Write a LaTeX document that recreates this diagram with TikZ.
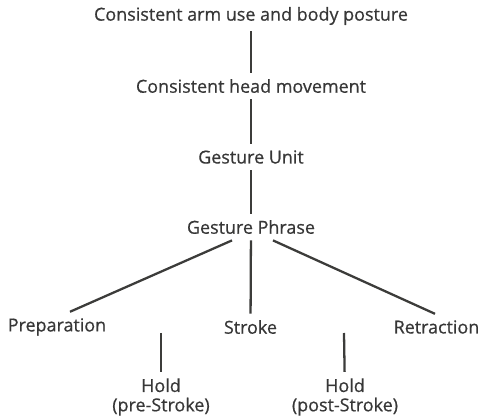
\documentclass[tikz,border=0pt]{standalone}
\usepackage{fontspec}
\setmainfont{Open Sans}
\newfontfamily\lblfont[FakeBold=0.6]{Open Sans}
\usepackage{tikz}
\usetikzlibrary{positioning, calc}
\definecolor{ink}{RGB}{55,55,55}
\definecolor{rule}{RGB}{60,60,58}

\begin{document}
\begin{tikzpicture}[
  lvl/.style={inner sep=3.5pt, text=ink, font=\fontsize{10.2}{11}\lblfont},
  hold/.style={lvl, align=center},
  link/.style={rule, line width=1.3pt}]
\useasboundingbox (0,0) rectangle (9.64,-8.32);
\node[lvl] (arm) at (5.02,-0.32) {Consistent arm use and body posture};
\node[lvl] (head) at (5.02,-1.72) {Consistent head movement};
\node[lvl] (unit) at (5.02,-3.14) {Gesture Unit};
\node[lvl] (phrase) at (5.02,-4.54) {Gesture Phrase};
\node[lvl] (prep) at (1.14,-6.54) {Preparation};
\node[lvl] (stroke) at (5.01,-6.54) {Stroke};
\node[lvl] (retr) at (8.73,-6.54) {Retraction};
\node[hold] (prehold) at (3.22,-7.94) {Hold\\(pre-Stroke)};
\node[hold] (posthold) at (6.90,-7.94) {Hold\\(post-Stroke)};
\coordinate (pretop) at (3.22,-6.66);
\coordinate (posttop) at (6.88,-6.66);
\draw[link] (arm) -- (head);
\draw[link] (head) -- (unit);
\draw[link] (unit) -- (phrase);
\draw[link] ([xshift=-0.38cm]phrase.south) -- ([xshift=0.26cm]prep.north);
\draw[link] (phrase) -- (stroke);
\draw[link] ([xshift=0.44cm]phrase.south) -- ([xshift=-0.03cm]retr.north);
\draw[link] (pretop) -- (prehold);
\draw[link] (posttop) -- (posthold);
\end{tikzpicture}
\end{document}
